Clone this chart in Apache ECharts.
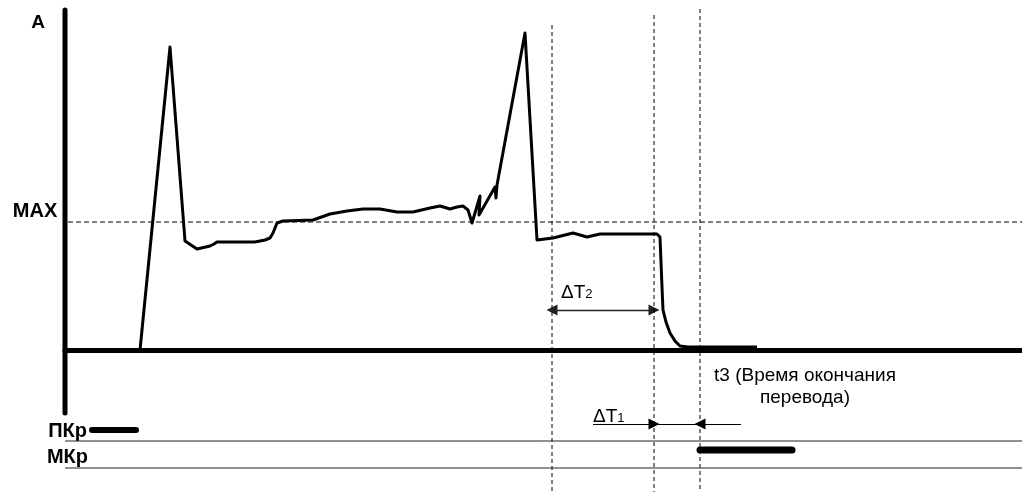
<!DOCTYPE html>
<html>
<head>
<meta charset="utf-8">
<script src="https://cdn.jsdelivr.net/npm/echarts@6/dist/echarts.min.js"></script>
<style>
  html, body { margin: 0; padding: 0; background: #fff; }
  #chart_box { width: 1022px; height: 492px; }
</style>
</head>
<body>
<div id="chart_box"></div>
<script>
// current curve (time, amplitude)
var curveT = [75, 105, 120, 132, 145, 149, 152, 190, 192, 200, 205, 208, 212, 218, 248, 265, 282, 298, 315, 332, 348, 365, 375, 385, 392, 398, 403, 407, 415, 414, 430, 431, 432, 460, 472, 488, 508, 522, 535, 592, 595, 597, 598, 601, 605, 610, 615, 623, 692];
var curveA = [0, 303, 109, 101, 104, 106, 108, 108, 109, 110, 112, 117, 127, 129, 130, 136, 139, 141, 141, 138, 138, 142, 144, 141, 143, 144, 140, 127, 154, 135, 163, 152, 165, 317, 110, 112, 117, 113, 116, 116, 113, 63, 40, 28, 17, 9, 4, 3, 3];

var yAxisTop = 340;
var yAxisBottom = -63;
var maxLevel = 128;
var cursorT = [487, 589, 635];       // vertical dashed markers
var cursorTop = [325, 335, 341];
var bottomLevel = -142;

var dT2 = [487, 589];                // ΔT2 arrow
var dT2Level = 40;
var dT1Left = [528, 589];            // ΔT1 arrow pieces
var dT1Right = [676, 635];
var dT1Level = -74;

var pkrBar = [27, 71];
var pkrLevel = -80;
var mkrBar = [635, 727];
var mkrLevel = -100;
var railLevels = [-91, -118];

var font = '"Liberation Sans", Arial, sans-serif';

function pairs(xs, ys) {
  return xs.map(function (x, i) { return [x, ys[i]]; });
}

var myecharts = echarts.init(document.getElementById("chart_box"));

var cursorSeries = cursorT.map(function (t, i) {
  return {
    type: "line",
    data: [[t, cursorTop[i]], [t, bottomLevel]],
    symbol: "none",
    clip: false,
    silent: true,
    lineStyle: { color: "#000", width: 1, type: [4, 3] }
  };
});

var railSeries = railLevels.map(function (lv) {
  return {
    type: "line",
    data: [[0, lv], [957, lv]],
    symbol: "none",
    clip: false,
    lineStyle: { color: "#222", width: 1 }
  };
});

var labels = [
  { value: [-27, 327], text: "A", bold: true, size: 19, align: "center" },
  { value: [-30, 139], text: "MAX", bold: true, size: 20, align: "center" },
  { value: [22, -81], text: "ПКр", bold: true, size: 20, align: "right" },
  { value: [23, -107], text: "МКр", bold: true, size: 20, align: "right" },
  { value: [496, 57], text: "ΔT{s|2}", size: 19, align: "left" },
  { value: [528, -67], text: "ΔT{s|1}", size: 19, align: "left" },
  { value: [740, -37], text: "t3 (Время окончания\nперевода)", size: 19, align: "center" }
];

var option = {
  animation: false,
  grid: { left: 65, right: 0, top: 10, bottom: 79 },
  xAxis: {
    type: "value",
    min: 0,
    max: 957,
    axisLine: { show: true, onZero: true, lineStyle: { color: "#000", width: 5 } },
    axisTick: { show: false },
    axisLabel: { show: false },
    splitLine: { show: false }
  },
  yAxis: {
    type: "value",
    min: yAxisBottom,
    max: yAxisTop,
    axisLine: { show: false },
    axisTick: { show: false },
    axisLabel: { show: false },
    splitLine: { show: false }
  },
  series: [
    {
      type: "line",
      data: [[-53, maxLevel], [957, maxLevel]],
      symbol: "none",
      clip: false,
      lineStyle: { color: "#000", width: 1, type: [5, 3] }
    },
    {
      // the amplitude axis itself
      type: "line",
      data: [[0, yAxisTop], [0, yAxisBottom]],
      symbol: "none",
      clip: false,
      z: 6,
      lineStyle: { color: "#000", width: 5, cap: "round" }
    }
  ].concat(cursorSeries, railSeries, [
    {
      type: "line",
      data: pairs(curveT, curveA),
      symbol: "none",
      clip: false,
      z: 5,
      lineStyle: { color: "#000", width: 3, join: "round" }
    },
    {
      type: "line",
      data: [[pkrBar[0], pkrLevel], [pkrBar[1], pkrLevel]],
      symbol: "none",
      clip: false,
      lineStyle: { color: "#000", width: 6, cap: "round" }
    },
    {
      type: "line",
      data: [[mkrBar[0], mkrLevel], [mkrBar[1], mkrLevel]],
      symbol: "none",
      clip: false,
      lineStyle: { color: "#000", width: 7, cap: "round" }
    },
    {
      type: "lines",
      coordinateSystem: "cartesian2d",
      clip: false,
      symbol: ["triangle", "triangle"],
      symbolSize: 11,
      lineStyle: { color: "#222", width: 1.3, opacity: 1 },
      data: [{ coords: [[dT2[0], dT2Level], [dT2[1], dT2Level]] }]
    },
    {
      type: "lines",
      coordinateSystem: "cartesian2d",
      clip: false,
      symbol: ["none", "triangle"],
      symbolSize: 11,
      lineStyle: { color: "#000", width: 1, opacity: 1 },
      data: [
        { coords: [[dT1Left[0], dT1Level], [dT1Left[1], dT1Level]] },
        { coords: [[dT1Right[0], dT1Level], [dT1Right[1], dT1Level]] }
      ]
    },
    {
      type: "lines",
      coordinateSystem: "cartesian2d",
      clip: false,
      symbol: "none",
      lineStyle: { color: "#000", width: 1, opacity: 1 },
      data: [{ coords: [[dT1Left[1], dT1Level], [dT1Right[1], dT1Level]] }]
    },
    {
      type: "scatter",
      symbolSize: 0,
      clip: false,
      silent: true,
      itemStyle: { opacity: 1 },
      data: labels.map(function (l) {
        return {
          value: l.value,
          label: {
            show: true,
            position: "inside",
            formatter: l.text,
            align: l.align,
            verticalAlign: "middle",
            color: "#000",
            opacity: 1,
            fontFamily: font,
            fontWeight: l.bold ? "bold" : "normal",
            fontSize: l.size,
            lineHeight: 22,
            rich: {
              s: { fontSize: 13, fontFamily: font, color: "#000", verticalAlign: "bottom", padding: [0, 0, 3, 0] }
            }
          }
        };
      })
    }
  ])
};

myecharts.setOption(option);
</script>
</body>
</html>
